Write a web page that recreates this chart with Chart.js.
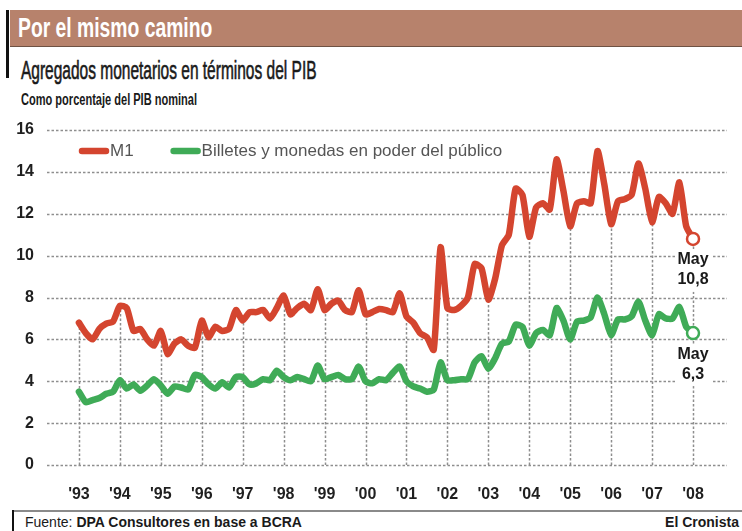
<!DOCTYPE html>
<html lang="es">
<head>
<meta charset="utf-8">
<title>Por el mismo camino</title>
<script src="https://cdn.jsdelivr.net/npm/chart.js@4.4.1/dist/chart.umd.min.js"></script>
<style>
  html, body { margin: 0; padding: 0; background: #fff; }
  #page { position: relative; width: 742px; height: 531px; overflow: hidden;
          font-family: 'Liberation Sans', Arial, sans-serif; color: #1a1a1a; }
  #bar { position: absolute; left: 6px; top: 10px; width: 3px; height: 68px; background: #111; }
  #band { position: absolute; left: 10px; top: 10px; width: 732px; height: 36px; background: #b7826c; border-bottom: 1px solid #6e5244; }
  .narrow { transform-origin: left center; white-space: nowrap; }
  #title { position: absolute; left: 18px; top: 10px; font-size: 28px; font-weight: bold; color: #fff; line-height: 36px; transform: scaleX(0.69); }
  #subtitle { position: absolute; left: 21px; top: 55px; font-size: 25px; line-height: 30px; transform: scaleX(0.62); -webkit-text-stroke: 0.6px #1a1a1a; }
  #unit { position: absolute; left: 21px; top: 91px; font-size: 16px; line-height: 18px; font-weight: bold; transform: scaleX(0.69); }
  #chart { position: absolute; left: 0; top: 110px; }
  #rule { position: absolute; left: 12px; top: 510px; width: 730px; height: 2px; background: #8a8a8a; }
  #footbar { position: absolute; left: 12px; top: 510px; width: 2px; height: 21px; background: #111; }
  #source { position: absolute; left: 25px; top: 514px; font-size: 14px; line-height: 17px; white-space: nowrap; }
  #brand { position: absolute; right: 3px; top: 514px; font-size: 14px; line-height: 17px; font-weight: bold; }
</style>
</head>
<body>
<div id="page">
  <div id="band"></div>
  <div id="bar"></div>
  <div id="title" class="narrow">Por el mismo camino</div>
  <div id="subtitle" class="narrow">Agregados monetarios en términos del PIB</div>
  <div id="unit" class="narrow">Como porcentaje del PIB nominal</div>
  <canvas id="chart" width="742" height="390"></canvas>
  <div id="rule"></div>
  <div id="footbar"></div>
  <div id="source">Fuente: <b>DPA Consultores en base a BCRA</b></div>
  <div id="brand">El Cronista</div>
</div>
<script>
// ejes
const years = ["'93", "'94", "'95", "'96", "'97", "'98", "'99", "'00", "'01", "'02", "'03", "'04", "'05", "'06", "'07", "'08"];
const firstYear = 1993;
const pointsPerYear = 6; // un dato cada dos meses
const lastLabel = 'May';
const seriesNames = ['M1', 'Billetes y monedas en poder del público'];

// % del PIB nominal
const m1 = [
  6.8, 6.3, 6.0, 6.5, 6.75, 6.85,
  7.6, 7.5, 6.4, 6.5, 6.0, 5.7,
  6.4, 5.3, 5.8, 6.0, 5.7, 5.6,
  6.9, 6.1, 6.6, 6.4, 6.5, 7.4,
  6.9, 7.3, 7.3, 7.4, 7.0, 7.5,
  8.1, 7.2, 7.5, 7.7, 7.4, 8.4,
  7.4, 7.7, 7.85, 7.4, 7.3, 8.35,
  7.2, 7.3, 7.45, 7.4, 7.3, 8.2,
  7.1, 6.8, 6.3, 6.1, 5.5, 10.4,
  7.5, 7.4, 7.6, 8.0, 9.6, 9.4,
  7.9, 8.9, 10.5, 11.0, 13.2, 12.9,
  10.9, 12.3, 12.5, 12.2, 14.6, 13.1,
  11.4, 12.5, 12.6, 12.5, 15.0, 13.4,
  11.5, 12.6, 12.7, 12.9, 14.4, 13.2,
  11.6, 12.8, 12.5, 12.0, 13.5, 11.4,
  10.8
];
const billetes = [
  3.5, 3.0, 3.1, 3.2, 3.4, 3.5,
  4.05, 3.65, 3.85, 3.55, 3.8, 4.1,
  3.8, 3.4, 3.75, 3.7, 3.6, 4.3,
  4.2, 3.85, 3.65, 3.95, 3.7, 4.2,
  4.2, 3.85, 3.9, 4.1, 4.05, 4.5,
  4.2, 4.05, 4.2, 4.1, 4.0, 4.75,
  4.1, 4.2, 4.3, 4.1, 4.1, 4.7,
  4.0, 3.9, 4.1, 4.05, 4.4, 4.7,
  4.0, 3.75, 3.65, 3.5, 3.6, 4.9,
  4.05, 4.05, 4.1, 4.1, 4.9, 5.2,
  4.6, 5.1, 5.8, 5.9, 6.7, 6.6,
  5.7, 6.3, 6.45, 6.2, 7.5, 6.9,
  6.0, 6.85, 6.9, 7.05, 8.0, 7.2,
  6.2, 6.95, 6.95, 7.1, 7.8, 6.9,
  6.2, 7.2, 7.0, 7.0, 7.55, 6.6,
  6.3
];

const colors = ['#d4452f', '#3fab57'];
const sans = "'Liberation Sans', Arial, sans-serif";

// rejilla punteada, leyenda y rótulos finales
const chartFrame = {
  id: 'chartFrame',
  beforeDatasetsDraw(chart) {
    const { ctx, chartArea, scales: { x, y } } = chart;
    ctx.save();
    ctx.strokeStyle = '#8e8e8e';
    ctx.lineWidth = 1.5;
    ctx.setLineDash([2.5, 2]);
    y.ticks.forEach(t => {
      const py = Math.round(y.getPixelForValue(t.value)) + 0.5;
      ctx.beginPath();
      ctx.moveTo(chartArea.left, py);
      ctx.lineTo(chartArea.right, py);
      ctx.stroke();
    });
    x.ticks.forEach(t => {
      const i = Math.round((t.value - firstYear) * pointsPerYear);
      const px = Math.round(x.getPixelForValue(t.value)) + 0.5;
      ctx.beginPath();
      ctx.moveTo(px, y.getPixelForValue(0));
      ctx.lineTo(px, y.getPixelForValue(m1[i]));
      ctx.stroke();
    });
    ctx.restore();
  },
  afterDatasetsDraw(chart) {
    const { ctx, chartArea } = chart;
    ctx.save();
    // leyenda
    let lx = chartArea.left + 35;
    const ly = chartArea.top + 21;
    ctx.font = '17px ' + sans;
    ctx.textBaseline = 'middle';
    chart.data.datasets.forEach(ds => {
      ctx.strokeStyle = ds.borderColor;
      ctx.lineWidth = 6.5;
      ctx.lineCap = 'round';
      ctx.beginPath();
      ctx.moveTo(lx, ly);
      ctx.lineTo(lx + 24, ly);
      ctx.stroke();
      ctx.fillStyle = '#555';
      ctx.fillText(ds.label, lx + 28, ly);
      lx += 28 + ctx.measureText(ds.label).width + 40;
    });
    // valores finales
    ctx.font = 'bold 16px ' + sans;
    ctx.textAlign = 'center';
    chart.data.datasets.forEach((ds, k) => {
      const meta = chart.getDatasetMeta(k);
      const pt = meta.data[meta.data.length - 1];
      const last = ds.data[ds.data.length - 1].y;
      const lines = [lastLabel, last.toFixed(1).replace('.', ',')];
      ctx.fillStyle = '#fff';
      ctx.fillRect(pt.x - 18, pt.y + 11, 36, 42);
      ctx.fillStyle = '#1a1a1a';
      lines.forEach((s, j) => ctx.fillText(s, pt.x, pt.y + 21 + j * 20));
    });
    ctx.restore();
  }
};

new Chart(document.getElementById('chart'), {
  type: 'line',
  data: {
    datasets: [m1, billetes].map((serie, k) => ({
      label: seriesNames[k],
      data: serie.map((v, i) => ({ x: firstYear + i / pointsPerYear, y: v })),
      borderColor: colors[k],
      borderWidth: 6.5,
      tension: 0.2,
      borderJoinStyle: 'round',
      borderCapStyle: 'round',
      pointRadius: c => (c.dataIndex === serie.length - 1 ? 6 : 0),
      pointBorderWidth: 2.5,
      pointBackgroundColor: '#fff',
      pointBorderColor: colors[k]
    }))
  },
  options: {
    responsive: false,
    animation: false,
    layout: { padding: { top: 20, right: 15 } },
    plugins: { legend: { display: false }, tooltip: { enabled: false } },
    scales: {
      x: {
        type: 'linear',
        min: 1992.22,
        max: 2008.83,
        grid: { display: false },
        border: { display: false },
        afterBuildTicks: s => { s.ticks = years.map((_, i) => ({ value: firstYear + i })); },
        afterFit: s => { s.height = 35; },
        ticks: {
          autoSkip: false,
          maxRotation: 0,
          padding: 12,
          color: '#1f1f1f',
          font: { family: sans, size: 16, weight: 'bold' },
          callback: v => years[v - firstYear]
        }
      },
      y: {
        min: 0,
        max: 16,
        grid: { display: false },
        border: { display: false },
        afterFit: s => { s.width = 47; },
        ticks: {
          stepSize: 2,
          padding: 5,
          color: '#1f1f1f',
          font: { family: sans, size: 16, weight: 'bold' }
        }
      }
    }
  },
  plugins: [chartFrame]
});
</script>
</body>
</html>
